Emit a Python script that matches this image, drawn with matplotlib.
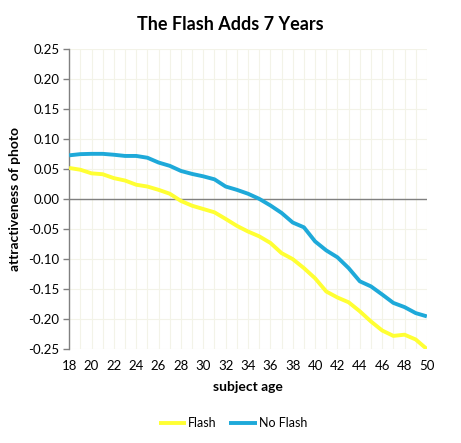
import matplotlib.pyplot as plt
import numpy as np

plt.rcParams['font.family'] = ['Lato', 'DejaVu Sans']

ages = list(range(18, 51))
flash = [0.052, 0.049, 0.043, 0.0415, 0.035, 0.031, 0.024, 0.021, 0.0155, 0.009,
         -0.003, -0.011, -0.0165, -0.022, -0.033, -0.0445, -0.054, -0.062, -0.073,
         -0.09, -0.1, -0.115, -0.132, -0.154, -0.164, -0.172, -0.187, -0.204,
         -0.219, -0.228, -0.226, -0.234, -0.25]
no_flash = [0.073, 0.075, 0.0755, 0.0755, 0.074, 0.072, 0.072, 0.069, 0.061, 0.0555,
            0.047, 0.042, 0.038, 0.033, 0.021, 0.0155, 0.009, 0.0005, -0.0105,
            -0.023, -0.039, -0.047, -0.0705, -0.0855, -0.097, -0.115, -0.137,
            -0.1455, -0.159, -0.173, -0.18, -0.19, -0.1955]
x_ticks = list(range(18, 51, 2))
y_ticks = [-0.25, -0.20, -0.15, -0.10, -0.05, 0.00, 0.05, 0.10, 0.15, 0.20, 0.25]

fig = plt.figure(figsize=(4.61, 4.43), dpi=100)
ax = fig.add_axes([0.15, 0.212, 0.776, 0.677])

grid_color = '#f3f3e8'
for a in ages:
    ax.axvline(a, color=grid_color, lw=0.8, zorder=0)
for v in y_ticks:
    ax.axhline(v, color=grid_color, lw=0.8, zorder=0)
ax.axhline(0, color='#808080', lw=1.0, zorder=1)

ax.plot(ages, flash, color='#ffff33', lw=2.8, label='Flash', zorder=3,
        solid_capstyle='butt')
ax.plot(ages, no_flash, color='#1ea9d9', lw=2.8, label='No Flash', zorder=3,
        solid_capstyle='butt')

ax.set_xlim(18, 50)
ax.set_ylim(-0.25, 0.25)
ax.set_xticks(x_ticks)
ax.set_yticks(y_ticks)
ax.set_yticklabels([f'{v:.2f}' for v in y_ticks])
ax.tick_params(axis='x', length=0, labelsize=9.5, pad=8)
ax.tick_params(axis='y', length=4, width=1, color='#808080', labelsize=9.5, pad=3)

for side in ['top', 'right', 'bottom']:
    ax.spines[side].set_visible(False)
ax.spines['left'].set_color('#808080')
ax.spines['left'].set_linewidth(1)

ax.set_xlabel('subject age', fontsize=10, fontweight='bold', labelpad=6)
ax.set_ylabel('attractiveness of photo', fontsize=10, fontweight='bold', labelpad=5)
fig.suptitle('The Flash Adds 7 Years', fontsize=13, fontweight='bold', y=0.965, x=0.5)

fig.legend(loc='center', bbox_to_anchor=(0.505, 0.045), ncol=2, frameon=False,
           fontsize=9, handlelength=2.2, handletextpad=0.15, columnspacing=1.0)

fig.savefig('out.png', dpi=100)
